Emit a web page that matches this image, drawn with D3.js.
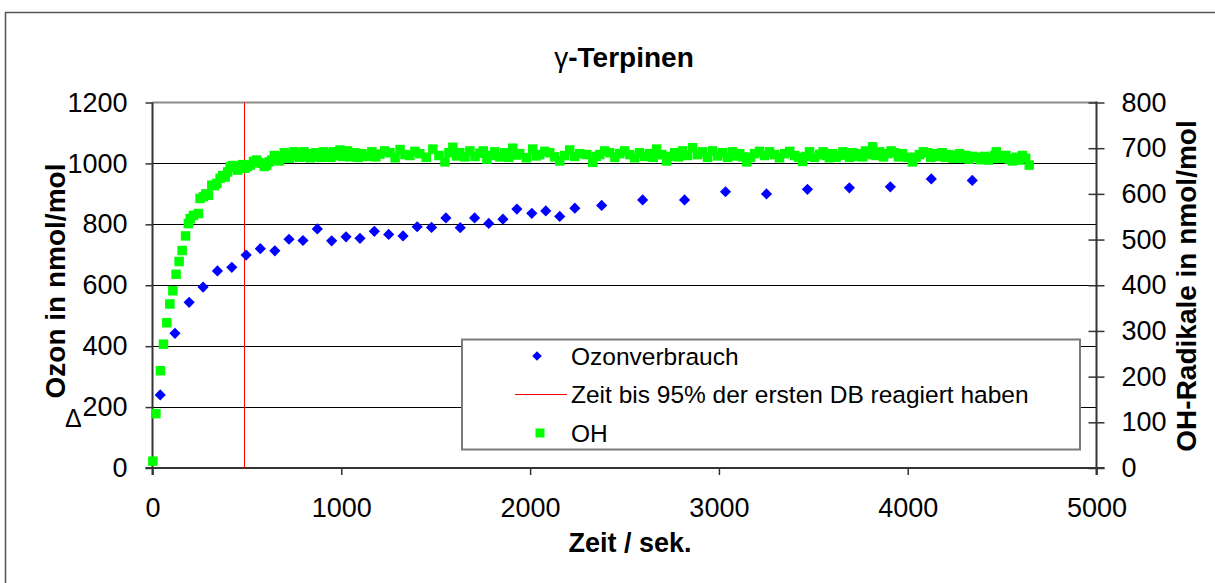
<!DOCTYPE html>
<html>
<head>
<meta charset="utf-8">
<script src="https://cdn.jsdelivr.net/npm/d3@7"></script>
<style>
  html, body { margin: 0; padding: 0; background: #fff; }
  svg { display: block; font-family: "Liberation Sans", Arial, sans-serif; }
</style>
</head>
<body>
<svg id="chart" width="1215" height="583"></svg>
<script>
// ---- tick values ----
const xTicks = [0, 1000, 2000, 3000, 4000, 5000];
const leftTicks = [0, 200, 400, 600, 800, 1000, 1200];
const rightTicks = [0, 100, 200, 300, 400, 500, 600, 700, 800];

// ---- time until 95 % of the first double bond has reacted (s) ----
const markerTime = 484;

// ---- ozone consumption (nmol/mol), left axis ----
const ozonTime = [41, 119, 194, 268, 344, 420, 496, 571, 648, 723, 797, 873, 949, 1025, 1099,
  1175, 1251, 1327, 1402, 1478, 1554, 1630, 1706, 1781, 1856, 1930, 2009, 2083, 2157, 2237,
  2379, 2596, 2818, 3035, 3252, 3469, 3691, 3908, 4125, 4342];
const ozonValue = [240, 442, 544, 594, 647, 659, 699, 720, 713, 751, 747, 785, 746, 759, 754,
  777, 767, 762, 792, 790, 821, 789, 821, 803, 817, 850, 836, 844, 826, 853,
  862, 880, 880, 907, 900, 915, 920, 923, 949, 944];

// ---- OH radicals (nmol/mol), right axis ----
const ohTime = [2, 18, 42, 58, 76, 92, 108, 125, 141, 157, 175, 190, 200, 217, 243,
  252, 270, 283, 296, 314, 328, 341, 358, 372, 385, 398, 411, 425, 438, 451,
  464, 477, 490, 503, 517, 535, 552, 565, 579, 592, 605, 618, 632, 645, 658,
  672, 685, 698, 711, 724, 737, 750, 764, 777, 790, 803, 817, 835, 852, 865,
  878, 892, 905, 918, 931, 945, 958, 975, 993, 1006, 1020, 1033, 1046,
  1072, 1090, 1109, 1135, 1162, 1183, 1205, 1230, 1258, 1285, 1311, 1337, 1363, 1390, 1416,
  1450, 1485, 1517, 1549, 1570, 1591, 1610, 1628, 1655, 1681, 1708, 1734, 1752, 1771, 1792,
  1813, 1840, 1866, 1887, 1908, 1927, 1945, 1980, 2014, 2032, 2051, 2078, 2104, 2130, 2157,
  2183, 2210, 2236, 2263, 2300, 2332, 2350, 2369, 2395, 2422, 2449, 2475, 2501, 2528, 2554,
  2580, 2607, 2633, 2652, 2670, 2697, 2723, 2745, 2766, 2787, 2808, 2835, 2861, 2888, 2914,
  2940, 2967, 2993, 3020, 3046, 3072, 3091, 3110, 3128, 3147, 3168, 3189, 3215, 3242, 3268,
  3295, 3321, 3348, 3375, 3401, 3422, 3443, 3462, 3480, 3507, 3533, 3552, 3570, 3585, 3602,
  3620, 3639, 3657, 3676, 3692, 3708, 3727, 3745, 3762, 3777, 3796, 3814, 3832, 3851, 3872,
  3893, 3912, 3930, 3951, 3972, 3998, 4025, 4044, 4062, 4083, 4104, 4122, 4141, 4162, 4183,
  4200, 4220, 4240, 4258, 4274, 4289, 4308, 4326, 4345, 4363, 4385, 4406, 4427, 4448, 4460,
  4469, 4485, 4501, 4520, 4538, 4556, 4575, 4590, 4607, 4625, 4644];
const ohValue = [15, 119, 213, 271, 318, 359, 388, 424, 452, 476, 508, 535, 546, 553, 557,
  590, 594, 600, 597, 619, 618, 623, 634, 640, 637, 648, 659, 662, 659, 652,
  656, 664, 656, 660, 663, 671, 674, 668, 667, 660, 663, 670, 674, 684, 681,
  672, 678, 690, 685, 678, 685, 692, 688, 680, 681, 692, 688, 679, 681, 690,
  685, 680, 692, 682, 688, 680, 692, 684, 696, 682, 685, 694, 681,
  690, 680, 688, 682, 692, 681, 687, 694, 690, 679, 697, 686, 684, 693, 688,
  680, 698, 684, 670, 690, 702, 683, 690, 681, 694, 682, 689, 694, 676, 684,
  692, 681, 690, 680, 700, 685, 688, 679, 698, 683, 686, 693, 690, 681, 672,
  684, 696, 682, 688, 686, 669, 682, 686, 694, 690, 680, 688, 694, 686, 679,
  690, 682, 688, 680, 698, 686, 672, 682, 690, 681, 694, 684, 701, 686, 692,
  680, 694, 683, 690, 680, 692, 683, 688, 681, 670, 680, 688, 693, 684, 692,
  686, 679, 688, 693, 684, 680, 671, 682, 692, 680, 686, 692, 684, 679, 688,
  680, 684, 692, 686, 680, 690, 682, 688, 681, 694, 686, 703, 684, 692, 681,
  688, 694, 690, 681, 688, 680, 670, 680, 686, 692, 690, 680, 688, 682, 690,
  680, 686, 678, 683, 688, 678, 684, 676, 682, 680, 675, 682, 674, 678, 684,
  692, 682, 678, 684, 676, 672, 680, 674, 684, 678, 663];

// ---- legend entries ----
const legendLabels = ["Ozonverbrauch", "Zeit bis 95% der ersten DB reagiert haben", "OH"];

const BLUE = "#0000FF", GREEN = "#00FF00", RED = "#FF0000";
const FONT = "Liberation Sans, Arial, sans-serif";

const svg = d3.select("#chart");

// scales
const x = d3.scaleLinear().domain([0, 5000]).range([152.5, 1096.5]);
const yL = d3.scaleLinear().domain([0, 1200]).range([468, 102.5]);
const yR = d3.scaleLinear().domain([0, 800]).range([468, 102.5]);
const fmt = d3.format("d");

// chart area frame
svg.append("rect")
  .attr("x", 5.5).attr("y", 12.5).attr("width", 1230).attr("height", 600)
  .attr("fill", "none").attr("stroke", "#555").attr("stroke-width", 1.5);

// title
const title = svg.append("text")
  .attr("x", 624).attr("y", 67)
  .attr("text-anchor", "middle")
  .attr("font-size", 28).attr("font-weight", "bold").attr("fill", "#000");
title.append("tspan").attr("font-weight", "normal").text("γ");
title.append("tspan").text("-Terpinen");

// horizontal gridlines (left axis)
svg.append("g").selectAll("line")
  .data(leftTicks.filter(d => d > 0 && d < 1200))
  .join("line")
  .attr("x1", x(0)).attr("x2", x(5000))
  .attr("y1", d => Math.round(yL(d)) + 0.5).attr("y2", d => Math.round(yL(d)) + 0.5)
  .attr("stroke", "#000").attr("stroke-width", 1);

// plot area top edge
svg.append("line")
  .attr("x1", x(0)).attr("x2", x(5000))
  .attr("y1", yL(1200)).attr("y2", yL(1200))
  .attr("stroke", "#8c8c8c").attr("stroke-width", 2);

// left axis
const axL = svg.append("g").attr("transform", `translate(${x(0)},0)`)
  .call(d3.axisLeft(yL).tickValues(leftTicks).tickFormat(fmt).tickSize(7).tickPadding(18));
axL.select(".domain").remove();
axL.selectAll("line").attr("stroke", "#333").attr("stroke-width", 1.5);
axL.selectAll("text").attr("font-size", 27).attr("font-family", FONT).attr("fill", "#000");

// right axis (ticks cross the axis line)
const axR = svg.append("g").attr("transform", `translate(${x(5000)},0)`)
  .call(d3.axisRight(yR).tickValues(rightTicks).tickFormat(fmt).tickSize(8).tickPadding(17));
axR.select(".domain").remove();
axR.selectAll("line").attr("x1", -8).attr("stroke", "#333").attr("stroke-width", 1.5);
axR.selectAll("text").attr("font-size", 27).attr("font-family", FONT).attr("fill", "#000");

// bottom axis
const axB = svg.append("g").attr("transform", `translate(0,468)`)
  .call(d3.axisBottom(x).tickValues(xTicks).tickFormat(fmt).tickSize(7).tickPadding(23));
axB.select(".domain").remove();
axB.selectAll("line").attr("stroke", "#333").attr("stroke-width", 1.5);
axB.selectAll("text").attr("font-size", 27).attr("font-family", FONT).attr("fill", "#000");

// axis lines
svg.append("line").attr("x1", x(0)).attr("x2", x(0)).attr("y1", yL(1200)).attr("y2", 475)
  .attr("stroke", "#333").attr("stroke-width", 2);
svg.append("line").attr("x1", x(5000)).attr("x2", x(5000)).attr("y1", yL(1200) - 1).attr("y2", 475)
  .attr("stroke", "#333").attr("stroke-width", 2);
svg.append("line").attr("x1", x(0) - 7).attr("x2", x(5000) + 8).attr("y1", 468).attr("y2", 468)
  .attr("stroke", "#333").attr("stroke-width", 2);

// vertical marker line
svg.append("line")
  .attr("x1", Math.round(x(markerTime)) + 0.5).attr("x2", Math.round(x(markerTime)) + 0.5)
  .attr("y1", yL(1200)).attr("y2", yL(0))
  .attr("stroke", RED).attr("stroke-width", 1);

// OH series (squares)
const sq = 9.5;
svg.append("g").selectAll("rect")
  .data(ohTime.map((t, i) => [t, ohValue[i]]))
  .join("rect")
  .attr("x", d => x(d[0]) - sq / 2).attr("y", d => yR(d[1]) - sq / 2)
  .attr("width", sq).attr("height", sq)
  .attr("fill", GREEN);

// ozone consumption (diamonds)
const diamond = r => `M0,${-r}L${r},0L0,${r}L${-r},0Z`;
svg.append("g").selectAll("path")
  .data(ozonTime.map((t, i) => [t, ozonValue[i]]))
  .join("path")
  .attr("transform", d => `translate(${x(d[0])},${yL(d[1])})`)
  .attr("d", diamond(5.6))
  .attr("fill", BLUE);

// axis titles
svg.append("text")
  .attr("transform", "translate(65,281) rotate(-90)")
  .attr("text-anchor", "middle")
  .attr("font-size", 28).attr("font-weight", "bold").attr("fill", "#000")
  .text("Ozon in nmol/mol");
svg.append("text")
  .attr("x", 65).attr("y", 427)
  .attr("font-size", 25).attr("fill", "#000")
  .text("Δ");
svg.append("text")
  .attr("transform", "translate(1196,286) rotate(-90)")
  .attr("text-anchor", "middle")
  .attr("font-size", 28).attr("font-weight", "bold").attr("fill", "#000")
  .text("OH-Radikale in nmol/mol");
svg.append("text")
  .attr("x", 630).attr("y", 552)
  .attr("text-anchor", "middle")
  .attr("font-size", 27).attr("font-weight", "bold").attr("fill", "#000")
  .text("Zeit / sek.");

// legend
const lg = svg.append("g");
lg.append("rect")
  .attr("x", 462).attr("y", 339.5).attr("width", 618).attr("height", 110)
  .attr("fill", "#fff").attr("stroke", "#7a7a7a").attr("stroke-width", 2);
const rowY = [356, 394, 433];
lg.append("path").attr("transform", `translate(537,${rowY[0]})`).attr("d", diamond(4.8)).attr("fill", BLUE);
lg.append("line").attr("x1", 515).attr("x2", 567).attr("y1", rowY[1] + 0.5).attr("y2", rowY[1] + 0.5)
  .attr("stroke", RED).attr("stroke-width", 1);
lg.append("rect").attr("x", 535.5).attr("y", rowY[2] - 4.5).attr("width", 9).attr("height", 9).attr("fill", GREEN);
lg.selectAll("text.lbl")
  .data(legendLabels)
  .join("text")
  .attr("class", "lbl")
  .attr("x", 571).attr("y", (d, i) => rowY[i] + 8.5)
  .attr("font-size", 24.5).attr("fill", "#000")
  .text(d => d);
</script>
</body>
</html>
